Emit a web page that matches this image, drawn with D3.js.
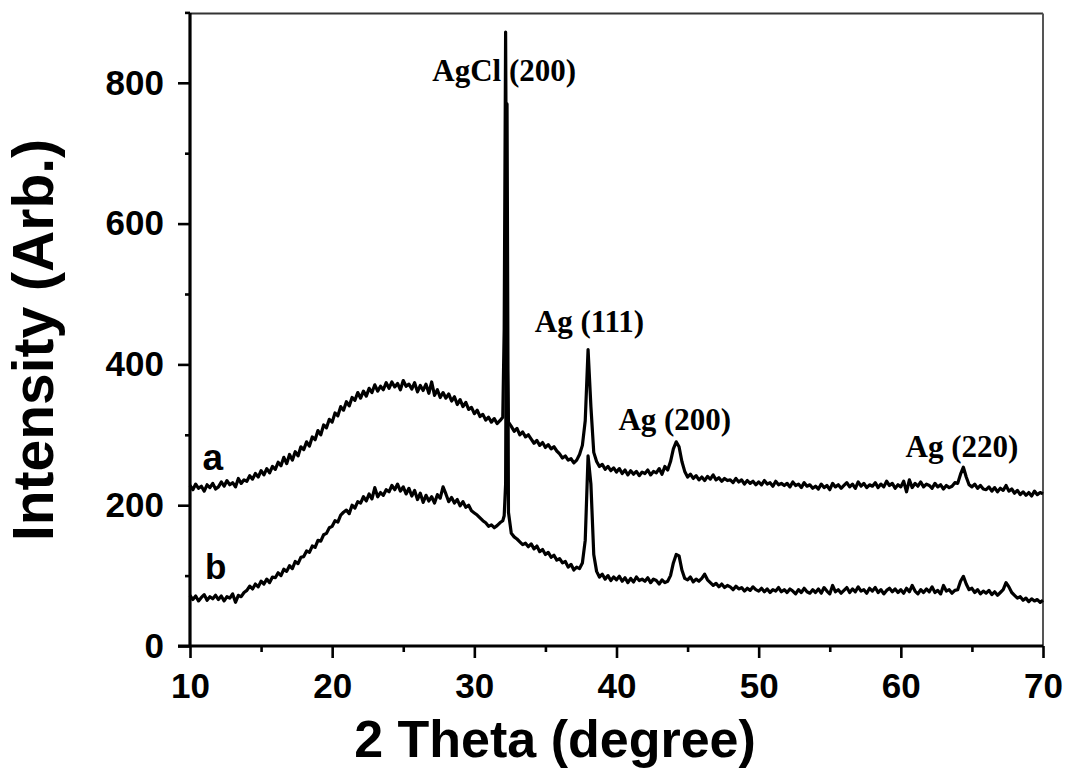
<!DOCTYPE html>
<html><head><meta charset="utf-8">
<script src="https://cdn.jsdelivr.net/npm/d3@7"></script>
<style>body{margin:0;background:#fff}svg{display:block}</style>
</head><body>
<script>
// ---------- data ----------
const thetaStart = 10, thetaStep = 0.2;           // sampling of the scan (degrees)
const intensityA = [
 228,222,230,224,227,220,229,225,231,223,
 226,233,227,235,229,232,226,238,231,236,
 234,242,237,245,240,249,243,252,246,255,
 251,261,256,268,259,272,264,276,270,283,
 279,290,284,297,293,306,300,314,310,322,
 318,331,327,340,335,347,341,353,349,360,
 352,362,355,366,360,371,362,369,364,374,
 366,375,368,373,364,377,369,372,365,374,
 361,370,363,372,359,375,356,364,353,360,
 352,358,348,354,343,350,340,346,336,339,
 330,335,326,329,321,325,318,323,316,320,
 325,872,318,312,305,309,300,304,297,300,
 294,288,292,285,289,282,286,280,283,277,
 273,267,270,264,266,260,264,272,285,320,
 421,340,275,262,255,258,251,255,249,253,
 247,252,245,250,243,249,244,248,242,247,
 245,250,243,248,246,252,244,255,250,262,
 280,290,283,262,248,240,244,238,242,236,
 240,235,241,237,243,236,239,234,238,235,
 236,232,238,233,236,230,235,231,234,229,
 233,229,235,230,232,227,234,229,231,228,
 231,226,233,228,230,225,232,227,229,224,
 227,223,230,225,228,222,231,226,229,224,
 228,232,226,230,224,233,227,231,225,229,
 227,232,225,230,226,234,228,231,224,229,
 226,234,219,236,225,231,227,233,226,230,
 228,224,231,226,229,223,228,225,227,232,
 231,244,254,240,229,226,230,224,228,223,
 222,226,220,225,219,224,221,228,220,223,
 217,221,215,219,214,218,213,220,215,218,
 216];
const intensityB = [
 72,66,71,64,69,73,65,70,67,72,
 66,71,64,70,68,74,62,72,70,76,
 79,85,81,88,84,92,88,95,90,98,
 97,104,100,109,106,114,110,120,117,126,
 127,135,133,142,140,150,149,158,160,168,
 170,178,176,186,190,193,188,200,196,205,
 203,212,206,216,209,225,212,218,214,222,
 219,228,222,230,220,226,216,224,213,221,
 208,217,204,214,206,212,203,215,210,226,
 216,205,211,203,208,199,205,197,200,192,
 189,186,182,178,175,170,172,168,171,175,
 178,230,190,160,155,152,148,144,146,141,
 145,138,142,134,137,130,133,126,129,122,
 124,118,120,112,116,108,112,110,118,150,
 270,230,130,106,98,102,95,100,93,98,
 94,99,92,97,90,96,91,98,93,95,
 92,97,90,95,93,88,94,90,92,100,
 118,130,128,108,96,94,98,91,95,92,
 96,102,94,90,86,89,84,88,83,86,
 84,80,85,81,83,78,82,79,84,80,
 78,82,77,81,76,80,78,83,77,80,
 76,81,78,74,80,76,82,77,75,80,
 76,81,75,83,78,74,86,77,80,75,
 79,83,76,81,77,84,78,80,75,82,
 78,83,76,80,74,79,82,77,81,76,
 80,75,82,77,86,78,74,80,76,81,
 77,84,76,79,74,86,78,80,75,79,
 80,92,99,88,80,82,76,80,74,78,
 75,79,73,77,72,76,80,90,84,76,
 72,68,70,65,68,63,67,64,66,62,
 65];
// extra points read at the sharp AgCl (200) peak
const peakTheta = [32.1, 32.3];
const peakA = [450, 420];
const peakB = [185, 770];

const xTicks = [10, 20, 30, 40, 50, 60, 70];
const xMinor = [15, 25, 35, 45, 55, 65];
const yTicks = [0, 200, 400, 600, 800];
const yMinor = [100, 300, 500, 700, 900];
const peakLabels = [
  {text: "AgCl (200)", x: 32.1, y: 802},
  {text: "Ag (111)", x: 38.1, y: 446},
  {text: "Ag (200)", x: 44.1, y: 307},
  {text: "Ag (220)", x: 64.3, y: 268}
];
const curveLabels = [{text: "a", x: 11.6, y: 250, size: 37}, {text: "b", x: 11.8, y: 95, size: 35}];

// ---------- build ----------
function buildSeries(vals, extra) {
  const pts = vals.map((v, i) => [thetaStart + i * thetaStep, v]);
  peakTheta.forEach((t, i) => pts.push([t, extra[i]]));
  return pts.sort((p, q) => p[0] - q[0]);
}
const seriesA = buildSeries(intensityA, peakA);
const seriesB = buildSeries(intensityB, peakB);

const W = 1066, H = 784;
const svg = d3.select("body").append("svg").attr("width", W).attr("height", H);
const x = d3.scaleLinear().domain([10, 70]).range([190, 1043]);
const y = d3.scaleLinear().domain([0, 900]).range([646, 12.4]);
const sans = "'Liberation Sans', Arial, sans-serif";
const serif = "'Liberation Serif', 'Times New Roman', serif";

// frame (top + right)
svg.append("line").attr("x1", x(10)).attr("x2", x(70)).attr("y1", 13.5).attr("y2", 13.5)
  .style("stroke", "#333").style("stroke-width", 1.8);
svg.append("line").attr("x1", x(70)).attr("x2", x(70)).attr("y1", 13.5).attr("y2", 646)
  .style("stroke", "#555").style("stroke-width", 2);

// curves
const line = d3.line().x(d => x(d[0])).y(d => y(d[1]));
[seriesB, seriesA].forEach(s => svg.append("path").datum(s).attr("d", line)
  .style("fill", "none").style("stroke", "#000").style("stroke-width", 3.2)
  .style("stroke-linejoin", "round"));

// axes
const gx = svg.append("g").attr("transform", "translate(0,646)");
gx.call(d3.axisBottom(x).tickValues(xMinor).tickSize(6).tickFormat(""));
gx.call(g => g.select(".domain").remove());
const gx2 = svg.append("g").attr("transform", "translate(0,646)")
  .call(d3.axisBottom(x).tickValues(xTicks).tickSize(12).tickPadding(15).tickSizeOuter(0).tickFormat(d3.format("d")));
gx2.select(".domain").attr("d", `M178,0H${x(70)}`);

const gy = svg.append("g").attr("transform", "translate(190,0)");
gy.call(d3.axisLeft(y).tickValues(yMinor).tickSize(5).tickFormat(""));
gy.call(g => g.select(".domain").remove());
const gy2 = svg.append("g").attr("transform", "translate(190,0)")
  .call(d3.axisLeft(y).tickValues(yTicks).tickSize(12).tickPadding(14).tickSizeOuter(0).tickFormat(d3.format("d")));
gy2.select(".domain").attr("d", `M0,646V13`);

svg.selectAll(".tick line").style("stroke", "#000").style("stroke-width", 2.6);
svg.selectAll(".domain").style("stroke", "#000").style("stroke-width", 3.2);
svg.selectAll(".tick text").style("fill", "#000").style("font-family", sans)
  .style("font-weight", "bold").style("font-size", "35px");

// axis titles
svg.append("text").attr("x", 555).attr("y", 757).attr("text-anchor", "middle")
  .style("font-family", sans).style("font-weight", "bold").style("font-size", "52px")
  .text("2 Theta (degree)");
svg.append("text").attr("transform", "translate(53,340) rotate(-90)").attr("text-anchor", "middle")
  .style("font-family", sans).style("font-weight", "bold").style("font-size", "57px")
  .text("Intensity (Arb.)");

// curve labels
curveLabels.forEach(l => svg.append("text").attr("x", x(l.x)).attr("y", y(l.y))
  .attr("text-anchor", "middle").style("font-family", sans).style("font-weight", "bold")
  .style("font-size", l.size + "px").text(l.text));

// peak labels
peakLabels.forEach(l => svg.append("text").attr("x", x(l.x)).attr("y", y(l.y))
  .attr("text-anchor", "middle").style("font-family", serif).style("font-weight", "bold")
  .style("font-size", "31px").text(l.text));
</script>
</body></html>
